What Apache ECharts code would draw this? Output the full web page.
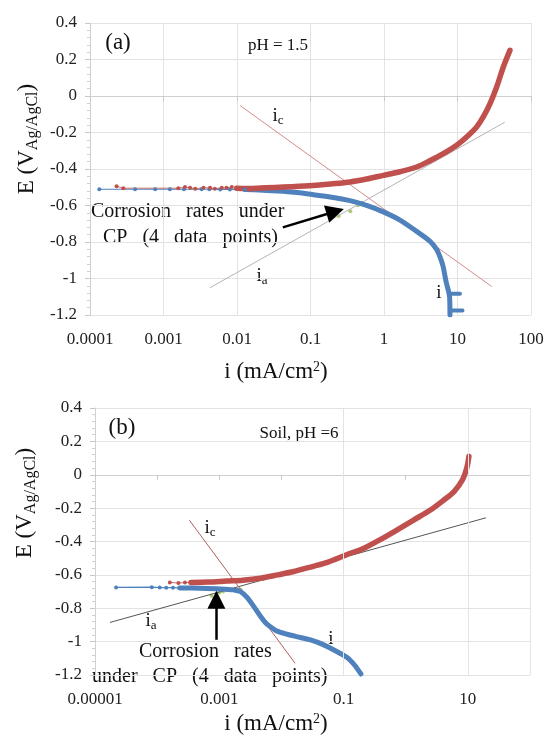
<!DOCTYPE html>
<html lang="en">
<head>
<meta charset="UTF-8">
<title>Polarization curves</title>
<style>html,body{margin:0;padding:0;background:#fff;}</style>
</head>
<body>
<div id="main" style="width:545px;height:741px;"></div>
<script src="https://cdn.jsdelivr.net/npm/echarts@6/dist/echarts.min.js"></script>
<script>
// (a) pH = 1.5   points are [i (mA/cm2), E (V Ag/AgCl)]
var redSparseA = [[2.3e-4,-0.495],[2.84e-4,-0.505],[1.59e-3,-0.505],[1.96e-3,-0.499],[2.3e-3,-0.503],[2.7e-3,-0.508],
    [3.5e-3,-0.503],[4.3e-3,-0.503],[5.0e-3,-0.508],[6.2e-3,-0.503],[7.2e-3,-0.503],[8.5e-3,-0.499]];
var redDenseA = [[0.0099,-0.505],[0.015,-0.507],[0.025,-0.503],[0.043,-0.499],[0.07,-0.495],[0.121,-0.489],[0.204,-0.481],
    [0.344,-0.471],[0.58,-0.455],[0.98,-0.435],[1.65,-0.415],[2.78,-0.389],[4.2,-0.355],[6.4,-0.316],[9.75,-0.27],
    [13.3,-0.225],[18.2,-0.17],[22.4,-0.115],[27.7,-0.042],[34.1,0.049],[42,0.159],[51.7,0.25]];
var blueSparseA = [[1.34e-4,-0.511],[4.1e-4,-0.511],[7.7e-4,-0.511],[1.22e-3,-0.511],[1.9e-3,-0.511],[3.3e-3,-0.511],
    [4.2e-3,-0.511],[5.9e-3,-0.512],[8e-3,-0.512],[0.0128,-0.513]];
var blueDenseA = [[0.0128,-0.513],[0.02,-0.515],[0.0356,-0.521],[0.06,-0.528],[0.107,-0.54],[0.184,-0.553],[0.344,-0.573],
    [0.58,-0.599],[0.98,-0.635],[1.65,-0.68],[2.78,-0.742],[4.2,-0.795],[5.2,-0.84],[5.8,-0.883],[6.4,-0.937],[6.8,-0.993],
    [7.1,-1.029],[7.5,-1.065],[7.8,-1.1],[7.9,-1.2]];
var blueSpikesA = [[7.9,-1.084],[10.8,-1.084],null,[7.9,-1.175],[11.7,-1.175]];
var greenA = [[0.242,-0.657],[0.348,-0.632],[0.442,-0.598],[0.5,-0.585]];
var tafelAnodicA = [[0.00431,-1.05],[43.9,-0.144]];
var tafelCathodicA = [[0.01107,-0.053],[29.2,-1.044]];
var arrowA = [[0.042,-0.72],[0.217,-0.633]];

// (b) soil, pH = 6
var redSparseB = [[1.6e-4,-0.645],[2.2e-4,-0.649],[2.8e-4,-0.646],[3.5e-4,-0.645]];
var redDenseB = [[3.5e-4,-0.645],[6.7e-4,-0.643],[1.3e-3,-0.637],[2.4e-3,-0.632],[4.6e-3,-0.62],[8.7e-3,-0.6],[0.0158,-0.58],
    [0.0316,-0.55],[0.055,-0.525],[0.114,-0.478],[0.213,-0.44],[0.396,-0.387],[0.73,-0.33],[1.36,-0.27],[2.53,-0.21],
    [4.15,-0.15],[6.0,-0.101],[8.2,-0.03],[9.6,0.04],[10.4,0.11]];
var blueSparseB = [[2.18e-5,-0.675],[8.2e-5,-0.674],[1.1e-4,-0.676],[1.4e-4,-0.677],[1.8e-4,-0.677],[2.3e-4,-0.678]];
var blueDenseB = [[2.3e-4,-0.678],[5e-4,-0.68],[1.04e-3,-0.684],[1.7e-3,-0.69],[2.2e-3,-0.7],[2.8e-3,-0.735],[3.6e-3,-0.79],
    [4.6e-3,-0.848],[5.5e-3,-0.885],[6.7e-3,-0.912],[8.5e-3,-0.937],[0.0124,-0.956],[0.02,-0.975],[0.0294,-0.99],
    [0.045,-1.015],[0.07,-1.05],[0.114,-1.095],[0.15,-1.14],[0.19,-1.194]];
var greenB = [[7.5e-4,-0.725],[1.0e-3,-0.705],[1.15e-3,-0.7],[2.2e-3,-0.688]];
var tafelAnodicB = [[1.74e-5,-0.885],[19.5,-0.258]];
var tafelCathodicB = [[3.3e-4,-0.272],[0.0166,-1.13]];
var arrowB = [[8.97e-4,-0.989],[8.97e-4,-0.749]];

// tick labels, indexed by decade from the axis min
var xLabelsA = ['0.0001', '0.001', '0.01', '0.1', '1', '10', '100'];
var xLabelsB = ['0.00001', '', '0.001', '', '0.1', '', '10', ''];
var gridLinesB = [0.001, 0.1, 10, 100];

var RED = '#c0504d', BLUE = '#4f81bd', GREEN = '#9bbb59';
var serif = "'Liberation Serif', serif";

var chart = echarts.init(document.getElementById('main'));

function xAxis(grid, min, max, labels, showSplit) {
    var base = Math.log10(min);
    return {
        type: 'log', gridIndex: grid, min: min, max: max, logBase: 10,
        axisLine: {lineStyle: {color: '#d0d0d0'}},
        axisTick: {show: true, length: 5, lineStyle: {color: '#c8c8c8'}},
        axisLabel: {
            fontFamily: serif, fontSize: 17, color: '#222', margin: grid ? 16 : 16,
            formatter: function (v) {
                return labels[Math.round(Math.log10(v) - base)] || '';
            }
        },
        splitLine: {show: showSplit, lineStyle: {color: '#e3e3e3'}}
    };
}

function yAxis(grid) {
    return {
        type: 'value', gridIndex: grid, min: -1.2, max: 0.4, interval: 0.2,
        axisLine: {show: true, lineStyle: {color: '#d0d0d0'}},
        axisTick: {show: true, length: 5, lineStyle: {color: '#c8c8c8'}},
        minorTick: {show: true, splitNumber: 5, length: 3, lineStyle: {color: '#d0d0d0'}},
        axisLabel: {fontFamily: serif, fontSize: 17, color: '#222', margin: 13},
        splitLine: {show: true, lineStyle: {color: '#e3e3e3'}}
    };
}

function curves(k, s) {
    var out = [
        {type: 'line', xAxisIndex: k, yAxisIndex: k, data: s.ta, symbol: 'none',
            lineStyle: {width: 1, color: s.taColor}},
        {type: 'line', xAxisIndex: k, yAxisIndex: k, data: s.tc, symbol: 'none',
            lineStyle: {width: 1, color: s.tcColor}},
        {type: 'line', xAxisIndex: k, yAxisIndex: k, data: s.bs, symbol: 'circle', symbolSize: 4,
            itemStyle: {color: BLUE}, lineStyle: {width: 1.2, color: BLUE}},
        {type: 'line', xAxisIndex: k, yAxisIndex: k, data: s.bd, symbol: 'none', smooth: 0.3,
            lineStyle: {width: 5, color: BLUE, cap: 'round', join: 'round'}},
        {type: 'line', xAxisIndex: k, yAxisIndex: k, data: s.spikes || [], symbol: 'none', connectNulls: false,
            lineStyle: {width: 4, color: BLUE, cap: 'round'}},
        {type: 'line', xAxisIndex: k, yAxisIndex: k, data: s.rs, symbol: 'circle', symbolSize: 4,
            itemStyle: {color: RED}, lineStyle: {width: 0.8, color: RED}},
        {type: 'line', xAxisIndex: k, yAxisIndex: k, data: s.rd, symbol: 'none', smooth: 0.3,
            lineStyle: {width: 5.5, color: RED, cap: 'round', join: 'round'}},
        {type: 'scatter', xAxisIndex: k, yAxisIndex: k, data: s.g, symbolSize: 4,
            itemStyle: {color: GREEN}},
        {type: 'line', xAxisIndex: k, yAxisIndex: k, data: [], symbol: 'none',
            markLine: {
                silent: true, symbol: ['none', 'triangle'], symbolSize: 18,
                label: {show: false},
                lineStyle: {color: '#000', width: 2.5, type: 'solid'},
                data: [[{coord: s.arrow[0]}, {coord: s.arrow[1]}]]
            }}
    ];
    if (s.grid) {
        out.push({type: 'line', xAxisIndex: k, yAxisIndex: k, data: [], symbol: 'none', z: 0,
            markLine: {
                silent: true, symbol: 'none', label: {show: false},
                lineStyle: {color: '#e3e3e3', width: 1, type: 'solid'},
                data: s.grid.map(function (v) { return {xAxis: v}; })
            }});
    }
    return out;
}

function fontOf(size) { return size + 'px ' + serif; }

function txt(x, y, text, size, align, extra) {
    var style = {text: text, x: 0, y: 0, font: fontOf(size), fill: '#111',
        align: align || 'center', verticalAlign: 'middle'};
    if (extra) { for (var key in extra) style[key] = extra[key]; }
    return {type: 'text', x: x, y: y, style: style, silent: true};
}

var subRich = {
    m: {font: fontOf(19), fill: '#111'},
    s: {font: fontOf(13), fill: '#111', padding: [10, 0, 0, 0]}
};
var titleRich = {
    m: {font: fontOf(23), fill: '#111'},
    s: {font: fontOf(16), fill: '#111', padding: [12, 0, 0, 0]},
    p: {font: fontOf(14), fill: '#111', padding: [0, 0, 10, 0]}
};

function yTitle(x, y) {
    var t = txt(x, y, '{m|E (V}{s|Ag/AgCl}{m|)}', 23, 'center', {rich: titleRich});
    t.rotation = Math.PI / 2;
    return t;
}

var option = {
    animation: false,
    backgroundColor: '#fff',
    textStyle: {fontFamily: serif},
    grid: [
        {left: 90, top: 23, width: 441, height: 292, outerBoundsMode: 'none'},
        {left: 95, top: 408, width: 435, height: 267, outerBoundsMode: 'none'}
    ],
    xAxis: [xAxis(0, 1e-4, 100, xLabelsA, true), xAxis(1, 1e-5, 100, xLabelsB, false)],
    yAxis: [yAxis(0), yAxis(1)],
    series: curves(0, {
        ta: tafelAnodicA, tc: tafelCathodicA, taColor: '#b4b4b4', tcColor: '#d38c8c',
        bs: blueSparseA, bd: blueDenseA, spikes: blueSpikesA, rs: redSparseA, rd: redDenseA,
        g: greenA, arrow: arrowA
    }).concat(curves(1, {
        ta: tafelAnodicB, tc: tafelCathodicB, taColor: '#555555', tcColor: '#b06060',
        bs: blueSparseB, bd: blueDenseB, rs: redSparseB, rd: redDenseB, g: greenB, arrow: arrowB,
        grid: gridLinesB
    })),
    graphic: [
        // panel (a)
        txt(118, 43, '(a)', 23),
        txt(278, 46, 'pH = 1.5', 17),
        txt(278, 116, '{m|i}{s|c}', 19, 'center', {rich: subRich}),
        txt(262, 276, '{m|i}{s|a}', 19, 'center', {rich: subRich}),
        txt(439, 293, 'i', 19),
        txt(91, 212, 'Corrosion   rates   under', 20, 'left'),
        txt(103, 238, 'CP   (4   data   points)', 20, 'left'),
        yTitle(27, 139),
        txt(276, 372, '{m|i (mA/cm}{p|2}{m|)}', 23, 'center', {rich: titleRich}),
        // panel (b)
        txt(122, 428, '(b)', 23),
        txt(299, 434, 'Soil, pH =6', 17),
        txt(210, 528, '{m|i}{s|c}', 19, 'center', {rich: subRich}),
        txt(151, 621, '{m|i}{s|a}', 19, 'center', {rich: subRich}),
        txt(331, 639, 'i', 19),
        txt(139, 652, 'Corrosion   rates', 20, 'left'),
        txt(92, 677, 'under   CP   (4   data   points)', 20, 'left'),
        yTitle(25, 503),
        txt(276, 724, '{m|i (mA/cm}{p|2}{m|)}', 23, 'center', {rich: titleRich})
    ]
};

chart.setOption(option);
</script>
</body>
</html>
